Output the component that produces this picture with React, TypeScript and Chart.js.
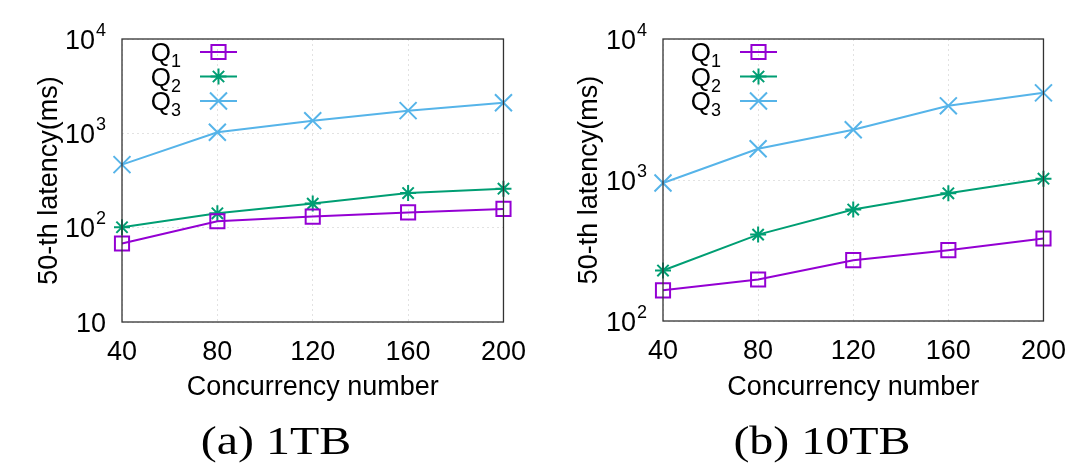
import React, { useEffect, useRef } from 'react';
import { Chart, registerables } from 'chart.js';
import { drawPoint } from 'chart.js/helpers';

Chart.register(...registerables);

// ---- data ----
const concurrency = ['40', '80', '120', '160', '200'];
const seriesLabels = ['Q1', 'Q2', 'Q3'];
const seriesBase = ['Q', 'Q', 'Q'];
const seriesSub = ['1', '2', '3'];
const seriesColors = ['#9400d3', '#009e73', '#56b4e9'];
const seriesPointStyles = ['rect', 'star', 'crossRot'];
const seriesPointRadii = [10, 8, 12];

const tb1Q1 = [68, 117, 131, 145, 158];
const tb1Q2 = [101, 142, 180, 233, 259];
const tb1Q3 = [466, 1026, 1362, 1740, 2113];

const tb10Q1 = [165, 197, 270, 318, 385];
const tb10Q2 = [228, 410, 617, 805, 1021];
const tb10Q3 = [953, 1666, 2270, 3357, 4150];

const tb1YTicks = [10, 100, 1000, 10000];
const tb1YExp = ['', '2', '3', '4'];
const tb10YTicks = [100, 1000, 10000];
const tb10YExp = ['2', '3', '4'];
const yTickBase = '10';

const xTitle = 'Concurrency number';
const yTitle = '50-th latency(ms)';
const captions = ['(a) 1TB', '(b) 10TB'];

const FONT = "'Liberation Sans', Arial, sans-serif";
const W = 540;
const H = 473;

type Area = { left: number; right: number; top: number; bottom: number };

function Panel(props: { series: number[][]; yTicks: number[]; yExp: string[]; area: Area }) {
  const ref = useRef<HTMLCanvasElement | null>(null);
  useEffect(() => {
    const canvas = ref.current!;
    const { area, yTicks, yExp, series } = props;
    const frame = {
      id: 'frame',
      afterDatasetsDraw(chart: any) {
        const { ctx, chartArea: a } = chart;
        ctx.save();
        ctx.strokeStyle = '#333';
        ctx.lineWidth = 1.3;
        ctx.strokeRect(a.left, a.top, a.right - a.left, a.bottom - a.top);
        ctx.restore();
      },
    };
    const yLabelsPlugin = {
      id: 'ylabels',
      afterDraw(chart: any) {
        const ctx = chart.ctx;
        const scale = chart.scales.y;
        const right = chart.chartArea.left - 16;
        ctx.save();
        ctx.fillStyle = '#000';
        ctx.textBaseline = 'alphabetic';
        ctx.textAlign = 'left';
        yTicks.forEach((v, i) => {
          const py = scale.getPixelForValue(v);
          const exp = yExp[i];
          ctx.font = `27px ${FONT}`;
          const wb = ctx.measureText(yTickBase).width;
          ctx.font = `18px ${FONT}`;
          const we = exp ? ctx.measureText(exp).width + 1 : 0;
          const x0 = right - wb - we;
          const base = py + 9.5;
          ctx.font = `27px ${FONT}`;
          ctx.fillText(yTickBase, x0, base);
          if (exp) {
            ctx.font = `18px ${FONT}`;
            ctx.fillText(exp, x0 + wb + 1, base - 13);
          }
        });
        ctx.restore();
      },
    };
    const keyPlugin = {
      id: 'key',
      afterDraw(chart: any) {
        const ctx = chart.ctx;
        ctx.save();
        chart.data.datasets.forEach((ds: any, i: number) => {
          const y = 52 + i * 24.5;
          ctx.textAlign = 'left';
          ctx.textBaseline = 'alphabetic';
          ctx.fillStyle = '#000';
          ctx.font = `26px ${FONT}`;
          const wq = ctx.measureText(seriesBase[i]).width;
          ctx.font = `18px ${FONT}`;
          const ws = ctx.measureText(seriesSub[i]).width;
          const x0 = 181 - wq - ws;
          ctx.font = `26px ${FONT}`;
          ctx.fillText(seriesBase[i], x0, y + 9);
          ctx.font = `18px ${FONT}`;
          ctx.fillText(seriesSub[i], x0 + wq, y + 15);
          ctx.strokeStyle = ds.borderColor;
          ctx.lineWidth = 2;
          ctx.beginPath();
          ctx.moveTo(200, y);
          ctx.lineTo(237, y);
          ctx.stroke();
          ctx.fillStyle = 'rgba(0,0,0,0)';
          drawPoint(ctx, { pointStyle: ds.pointStyle, radius: ds.pointRadius, borderWidth: 2, rotation: 0 } as any, 218.5, y);
        });
        ctx.restore();
      },
    };
    const chart = new Chart(canvas, {
      type: 'line',
      data: {
        labels: concurrency,
        datasets: series.map((vals, i) => ({
          label: seriesLabels[i],
          data: vals,
          borderColor: seriesColors[i],
          backgroundColor: 'rgba(0,0,0,0)',
          borderWidth: 2,
          pointStyle: seriesPointStyles[i] as any,
          pointRadius: seriesPointRadii[i],
          pointBorderWidth: 2,
          pointBorderColor: seriesColors[i],
          pointBackgroundColor: 'rgba(0,0,0,0)',
          tension: 0,
          fill: false,
        })),
      },
      options: {
        responsive: false,
        animation: false,
        devicePixelRatio: 1,
        layout: { padding: { left: 0, right: W - area.right, top: area.top, bottom: 0 } },
        plugins: { legend: { display: false }, tooltip: { enabled: false } },
        scales: {
          x: {
            type: 'category',
            offset: false,
            grid: { color: '#e2e2e2', drawTicks: false, lineWidth: 1 },
            border: { display: false, dash: [2, 3] },
            ticks: { font: { family: FONT, size: 27 }, color: '#000', padding: 14, maxRotation: 0, autoSkip: false },
            title: { display: true, text: xTitle, font: { family: FONT, size: 27 }, color: '#000', padding: { top: 0, bottom: 69 } },
            afterFit: (s: any) => {
              s.height = H - area.bottom;
            },
          },
          y: {
            type: 'logarithmic',
            min: yTicks[0],
            max: yTicks[yTicks.length - 1],
            afterBuildTicks: (s: any) => {
              s.ticks = yTicks.map((v) => ({ value: v, major: true }));
            },
            grid: { color: '#e2e2e2', drawTicks: false, lineWidth: 1 },
            border: { display: false, dash: [2, 3] },
            ticks: { display: false },
            title: { display: true, text: yTitle, font: { family: FONT, size: 27 }, color: '#000', padding: { top: 33, bottom: 0 } },
            afterFit: (s: any) => {
              s.width = area.left;
            },
          },
        },
      },
      plugins: [frame, yLabelsPlugin, keyPlugin],
    } as any);
    return () => chart.destroy();
  }, []);
  return <canvas ref={ref} width={W} height={H} style={{ width: W, height: H, display: 'block' }} />;
}

export default function App() {
  const capStyle = (center: number): React.CSSProperties => ({
    position: 'absolute',
    left: center - 150,
    width: 300,
    top: 420,
    textAlign: 'center',
    fontFamily: "'Liberation Serif', 'Times New Roman', serif",
    fontSize: 41,
    lineHeight: '41px',
    color: '#000',
    whiteSpace: 'nowrap',
    transform: 'scaleX(1.17)',
  });
  return (
    <div style={{ position: 'fixed', left: 0, top: 0, width: 1080, height: 473, background: '#fff', overflow: 'hidden' }}>
      <div style={{ position: 'absolute', left: 0, top: 0 }}>
        <Panel series={[tb1Q1, tb1Q2, tb1Q3]} yTicks={tb1YTicks} yExp={tb1YExp} area={{ left: 122, right: 504, top: 39, bottom: 322 }} />
      </div>
      <div style={{ position: 'absolute', left: 540, top: 0 }}>
        <Panel series={[tb10Q1, tb10Q2, tb10Q3]} yTicks={tb10YTicks} yExp={tb10YExp} area={{ left: 123, right: 505, top: 39, bottom: 321 }} />
      </div>
      <div style={capStyle(276)}>{captions[0]}</div>
      <div style={capStyle(822)}>{captions[1]}</div>
    </div>
  );
}
